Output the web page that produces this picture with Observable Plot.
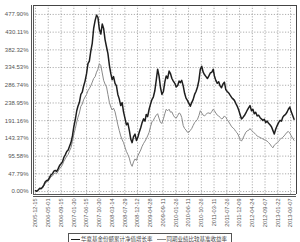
<!DOCTYPE html>
<html>
<head>
<meta charset="utf-8">
<script src="https://cdn.jsdelivr.net/npm/d3@7"></script>
<script src="https://cdn.jsdelivr.net/npm/@observablehq/plot@0.6"></script>
<style>
  body { margin: 0; background: #fff; width: 300px; height: 242px; overflow: hidden; position: relative; font-family: "Liberation Sans", Arial, sans-serif; }
  #legend { position: absolute; left: 68px; top: 233px; width: 164px; height: 12px; border: 1px solid #555; box-sizing: border-box; display: flex; align-items: center; font-family: "Noto Sans CJK SC", sans-serif; font-size: 5.5px; color: #444; white-space: nowrap; }
  .item { display: flex; align-items: center; margin-left: 2px; margin-right: 2px; }
  .sw { display: inline-block; width: 9px; height: 0; margin-right: 1px; }
</style>
</head>
<body>
<div id="chart"></div>
<div id="legend"></div>
<script>
// Series names
const seriesNames = ["华夏基金份额累计净值增长率", "同期业绩比较基准收益率"];
// Semi-monthly observations starting 2005-12-15 (percent)
const fund = [2,1, 5,9, 8,12, 18,26, 30,31, 38,45, 48,55, 57,54, 62,70, 75,80, 92,99, 108,112, 122,132, 150,175, 195,218, 230,240, 262,268, 285,298, 318,345, 352,378, 400,440, 462,476, 470,438, 425,452, 440,410, 390,372, 340,318, 302,310, 292,285, 262,250, 232,240, 215,198, 180,185, 165,142, 132,148, 155,138, 146,160, 172,186, 196,190, 208,202, 222,236, 248,255, 272,300, 330,312, 280,262, 270,295, 312,305, 325,318, 305,298, 292,282, 286,298, 294,300, 285,265, 252,246, 238,230, 240,248, 262,270, 282,300, 330,338, 322,315, 310,305, 312,320, 322,330, 312,300, 292,296, 285,280, 290,295, 275,270, 266,260, 254,250, 246,238, 230,220, 208,196, 200,205, 212,220, 226,232, 218,222, 210,214, 204,206, 200,196, 192,195, 186,190, 184,180, 175,165, 155,168, 178,186, 192,190, 200,205, 208,214, 222,228, 215,205, 195];
const bench = [2,1, 4,7, 7,10, 15,22, 26,28, 34,40, 42,48, 50,48, 55,62, 66,72, 82,88, 96,100, 110,118, 135,155, 170,188, 200,212, 230,236, 248,255, 262,272, 278,285, 295,305, 310,322, 330,345, 340,320, 300,290, 282,262, 240,228, 220,225, 215,198, 180,165, 150,140, 132,120, 108,100, 90,75, 68,80, 88,84, 96,104, 112,122, 130,136, 142,150, 160,175, 188,192, 200,206, 210,198, 186,184, 196,210, 222,218, 222,214, 215,206, 200,198, 205,212, 210,200, 178,170, 166,160, 160,165, 170,178, 186,190, 195,205, 218,212, 206,204, 208,212, 212,210, 216,222, 218,212, 206,204, 200,196, 198,204, 200,194, 188,182, 175,172, 168,162, 158,150, 140,136, 144,152, 160,164, 165,170, 165,162, 158,154, 150,148, 146,144, 142,140, 138,136, 132,128, 122,118, 125,128, 132,136, 140,144, 146,150, 155,160, 162,158, 150,144, 138];
// Axis ticks
const yTicks = [0, 47.79, 95.58, 143.37, 191.16, 238.95, 286.74, 334.53, 382.32, 430.11, 477.90];
const xTickLabels = ["2005-12-15","2006-05-01","2006-09-15","2007-01-30","2007-06-15","2007-10-30","2008-03-14","2008-07-29","2008-12-12","2009-04-28","2009-09-11","2010-01-26","2010-06-11","2010-10-26","2011-03-11","2011-07-26","2011-12-09","2012-04-24","2012-09-07","2013-01-22","2013-06-07"];

const start = new Date(Date.UTC(2005, 11, 15));
const dateAt = j => d3.utcDay.offset(d3.utcMonth.offset(start, Math.floor(j / 2)), j % 2 ? 15 : 0);
const fundRows = fund.map((v, j) => ({date: dateAt(j), value: v, s: seriesNames[0]}));
const benchRows = bench.map((v, j) => ({date: dateAt(j), value: v, s: seriesNames[1]}));
const xTicks = xTickLabels.map(s => new Date(s + "T00:00:00Z"));
const xDomain = [new Date("2005-11-24T00:00:00Z"), new Date("2013-08-10T00:00:00Z")];
const yDomain = [-8, 502];

const grid = {stroke: "#777", strokeOpacity: 1, strokeWidth: 0.6, strokeDasharray: "1.2,1.6"};

const chart = Plot.plot({
  width: 300,
  height: 233,
  marginTop: 5,
  marginLeft: 33,
  marginRight: 4,
  marginBottom: 39,
  style: {fontFamily: "Liberation Sans, Arial, sans-serif", fontSize: "6px", color: "#555", background: "white"},
  x: {type: "utc", domain: xDomain, label: null},
  y: {domain: yDomain, label: null},
  color: {domain: seriesNames, range: ["#1e1e1e", "#8a8a8a"]},
  marks: [
    Plot.gridY(yTicks, grid),
    Plot.gridX(xTicks, grid),
    Plot.line(benchRows, {x: "date", y: "value", stroke: "s", strokeWidth: 1}),
    Plot.line(fundRows, {x: "date", y: "value", stroke: "s", strokeWidth: 1.5}),
    Plot.ruleY([yDomain[1]], {stroke: "#444", strokeWidth: 1}),
    Plot.ruleX([xDomain[1]], {stroke: "#444", strokeWidth: 1}),
    Plot.ruleX([xDomain[0]], {stroke: "#444", strokeWidth: 0.9}),
    Plot.ruleX([xDomain[0]], {stroke: "#444", strokeWidth: 0.9, dx: -2}),
    Plot.ruleY([yDomain[0]], {stroke: "#444", strokeWidth: 0.9}),
    Plot.ruleY([yDomain[0]], {stroke: "#444", strokeWidth: 0.9, dy: 2}),
    Plot.axisY(yTicks, {label: null, tickSize: 0, tickPadding: 5, tickFormat: d => d.toFixed(2) + "%", fontSize: 6, fill: "#555"}),
    Plot.axisX(xTicks, {label: null, tickSize: 0, tickPadding: 4, tickRotate: -90, tickFormat: d => d3.utcFormat("%Y-%m-%d")(d), fontSize: 5.6, fill: "#555"})
  ]
});
document.getElementById("chart").appendChild(chart);

const colors = ["#1e1e1e", "#8a8a8a"];
const lg = document.getElementById("legend");
seriesNames.forEach((n, i) => {
  const it = document.createElement("span");
  it.className = "item";
  const sw = document.createElement("span");
  sw.className = "sw";
  sw.style.borderTop = "1px solid " + colors[i];
  it.appendChild(sw);
  it.appendChild(document.createTextNode(n));
  lg.appendChild(it);
});
</script>
</body>
</html>
